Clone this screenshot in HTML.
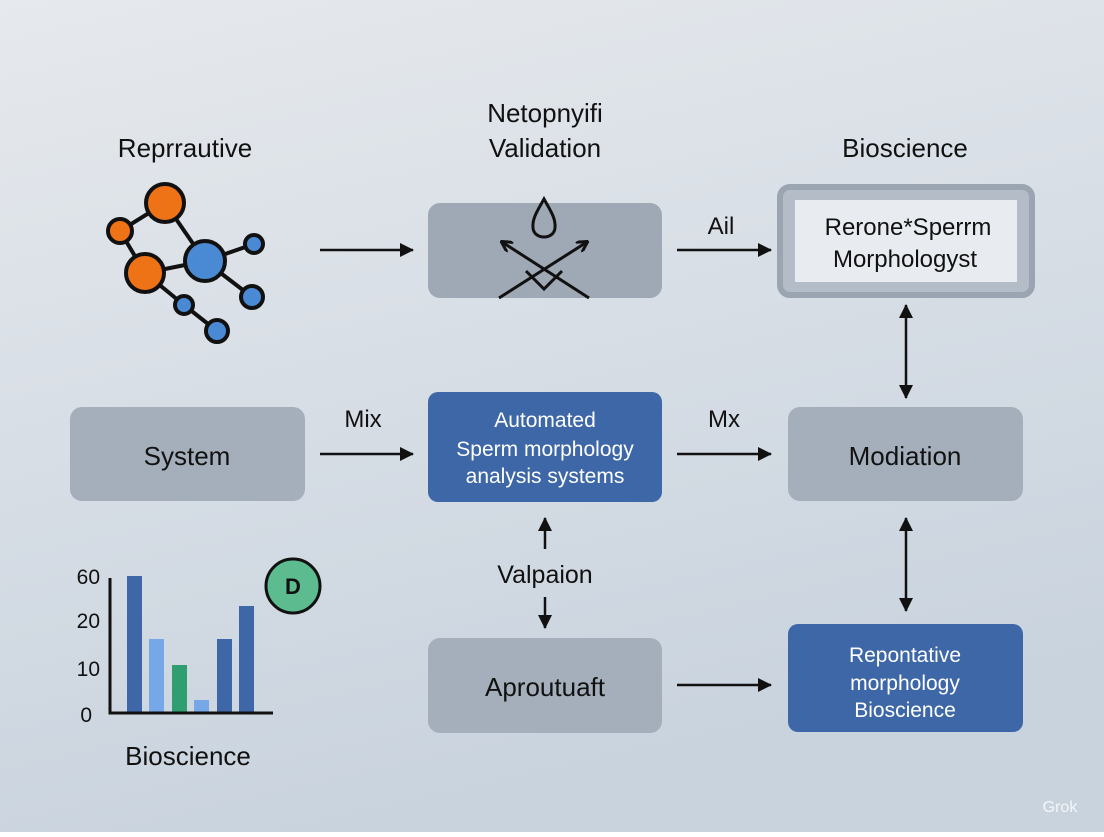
<!DOCTYPE html>
<html><head><meta charset="utf-8"><style>
body{margin:0;width:1104px;height:832px;overflow:hidden;font-family:"Liberation Sans",sans-serif;}
</style></head><body>
<svg width="1104" height="832" xmlns="http://www.w3.org/2000/svg" font-family="Liberation Sans, sans-serif">
<defs>
<linearGradient id="bg" x1="0" y1="0" x2="0.3" y2="1"><stop offset="0" stop-color="#e6e9ed"/><stop offset="1" stop-color="#c9d3de"/></linearGradient>
<marker id="ah" markerWidth="14" markerHeight="14" refX="13" refY="7" orient="auto-start-reverse" markerUnits="userSpaceOnUse"><path d="M0,0 L14,7 L0,14z" fill="#111"/></marker>
<marker id="ah2" markerWidth="12" markerHeight="12" refX="10" refY="6" orient="auto-start-reverse" markerUnits="userSpaceOnUse"><path d="M0,0 L11,6 L0,12" fill="none" stroke="#111" stroke-width="3"/></marker>
</defs>
<rect width="1104" height="832" fill="url(#bg)"/>
<g font-size="26" fill="#111" text-anchor="middle">
<text x="185" y="157">Reprrautive</text>
<text x="545" y="122">Netopnyifi</text>
<text x="545" y="157">Validation</text>
<text x="905" y="157">Bioscience</text>
</g>
<g stroke="#111" stroke-width="4">
<line x1="165" y1="203" x2="120" y2="231"/><line x1="165" y1="203" x2="205" y2="261"/>
<line x1="120" y1="231" x2="145" y2="273"/><line x1="145" y1="273" x2="205" y2="261"/>
<line x1="205" y1="261" x2="254" y2="244"/><line x1="205" y1="261" x2="252" y2="297"/>
<line x1="145" y1="273" x2="184" y2="305"/><line x1="184" y1="305" x2="217" y2="331"/>
<circle cx="165" cy="203" r="19" fill="#ee7316"/><circle cx="120" cy="231" r="12" fill="#ee7316"/>
<circle cx="145" cy="273" r="19" fill="#ee7316"/><circle cx="205" cy="261" r="20" fill="#4a8ad4"/>
<circle cx="254" cy="244" r="9" fill="#4a8ad4"/><circle cx="252" cy="297" r="11" fill="#4a8ad4"/>
<circle cx="184" cy="305" r="9" fill="#4a8ad4"/><circle cx="217" cy="331" r="11" fill="#4a8ad4"/>
</g>
<rect x="428" y="203" width="234" height="95" rx="12" fill="#9ea9b5"/>
<g stroke="#111" stroke-width="3" fill="none">
<line x1="589" y1="298" x2="502" y2="242" marker-end="url(#ah2)"/>
<line x1="499" y1="298" x2="587" y2="242" marker-end="url(#ah2)"/>
<path d="M544,199 C538,210 532,218 533,228 C534,240 554,240 555,228 C556,218 550,210 544,199z"/>
<path d="M526,271 L544,289 L562,271"/>
</g>
<rect x="780" y="187" width="252" height="108" rx="10" fill="#b4bdc7" stroke="#9aa5b1" stroke-width="6"/>
<rect x="795" y="200" width="222" height="82" fill="#e8ecf0"/>
<g font-size="24" fill="#111" text-anchor="middle">
<text x="908" y="235">Rerone*Sperrm</text><text x="905" y="267">Morphologyst</text>
</g>
<rect x="70" y="407" width="235" height="94" rx="12" fill="#a5afbb"/>
<text x="187" y="465" font-size="26" text-anchor="middle" fill="#111">System</text>
<rect x="428" y="392" width="234" height="110" rx="10" fill="#3d67a6"/>
<g font-size="21" fill="#fff" text-anchor="middle">
<text x="545" y="427">Automated</text><text x="545" y="456">Sperm morphology</text><text x="545" y="483">analysis systems</text>
</g>
<rect x="788" y="407" width="235" height="94" rx="12" fill="#a5afbb"/>
<text x="905" y="465" font-size="26" text-anchor="middle" fill="#111">Modiation</text>
<rect x="428" y="638" width="234" height="95" rx="12" fill="#a5afbb"/>
<text x="545" y="696" font-size="26" text-anchor="middle" fill="#111">Aproutuaft</text>
<rect x="788" y="624" width="235" height="108" rx="10" fill="#3d67a6"/>
<g font-size="21" fill="#fff" text-anchor="middle">
<text x="905" y="662">Repontative</text><text x="905" y="690">morphology</text><text x="905" y="717">Bioscience</text>
</g>
<g stroke="#111" stroke-width="2.5" marker-end="url(#ah)">
<line x1="320" y1="250" x2="413" y2="250"/>
<line x1="677" y1="250" x2="771" y2="250"/>
<line x1="320" y1="454" x2="413" y2="454"/>
<line x1="677" y1="454" x2="771" y2="454"/>
<line x1="677" y1="685" x2="771" y2="685"/>
<line x1="906" y1="305" x2="906" y2="398" marker-start="url(#ah)"/>
<line x1="906" y1="518" x2="906" y2="611" marker-start="url(#ah)"/>
<line x1="545" y1="549" x2="545" y2="518"/>
<line x1="545" y1="597" x2="545" y2="628"/>
</g>
<g font-size="24" fill="#111" text-anchor="middle">
<text x="721" y="234">Ail</text><text x="363" y="427">Mix</text><text x="724" y="427">Mx</text>
<text x="545" y="583" font-size="25">Valpaion</text>
</g>
<g>
<rect x="127" y="576" width="15" height="137" fill="#3d67a6"/>
<rect x="149" y="639" width="15" height="74" fill="#76a7e6"/>
<rect x="172" y="665" width="15" height="48" fill="#2f9e70"/>
<rect x="194" y="700" width="15" height="13" fill="#76a7e6"/>
<rect x="217" y="639" width="15" height="74" fill="#3d67a6"/>
<rect x="239" y="606" width="15" height="107" fill="#3d67a6"/>
<path d="M110,578 V713 H273" stroke="#111" stroke-width="3" fill="none"/>
<g font-size="21" fill="#111" text-anchor="end"><text x="100" y="584">60</text><text x="100" y="628">20</text><text x="100" y="676">10</text><text x="92" y="722">0</text></g>
<circle cx="293" cy="586" r="27" fill="#5dbb90" stroke="#111" stroke-width="3"/>
<text x="293" y="594" font-size="22" font-weight="bold" text-anchor="middle" fill="#111">D</text>
<text x="188" y="765" font-size="26" text-anchor="middle" fill="#111">Bioscience</text>
</g>
<text x="1060" y="812" font-size="16" fill="#fff" opacity="0.8" text-anchor="middle">Grok</text>
</svg>
</body></html>
